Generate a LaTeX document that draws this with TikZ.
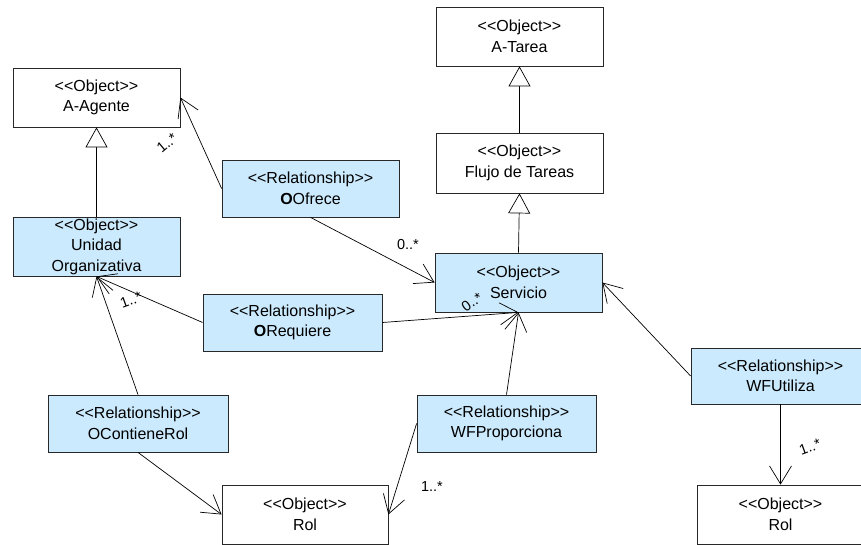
\documentclass[tikz,border=0pt]{standalone}
\usepackage{fontspec}
\setmainfont{Liberation Sans}
\usetikzlibrary{arrows.meta}
\definecolor{relfill}{RGB}{204,234,253}
\definecolor{edgegray}{RGB}{40,40,40}
% kerns keep the angle brackets from being joined into guillemets
\newcommand{\obj}{<\kern0pt<Object>\kern0pt>}
\newcommand{\rel}{<\kern0pt<Relationship>\kern0pt>}
\begin{document}
\begin{tikzpicture}[x=1pt,y=-1pt,
  box/.style={draw=edgegray, line width=0.8pt, rectangle, inner sep=0pt,
    align=center, font=\fontsize{16}{20.5}\selectfont},
  objbox/.style={box, fill=white, minimum width=167pt, minimum height=59pt},
  relbox/.style={box, fill=relfill, minimum width=179pt, minimum height=57pt},
  assoc/.style={draw, line width=0.7pt, -{Straight Barb[length=18pt,width=22pt]}},
  gen/.style={draw, line width=0.7pt, -{Triangle[open,length=20pt,width=22pt,fill=white]}},
  mult/.style={font=\fontsize{14.5}{14.5}\selectfont, inner sep=0pt}]
\useasboundingbox (0,0) rectangle (861,545);
\clip (0,0) rectangle (861,545);

% object classes
\node[objbox] (atarea)   at (519.5,36.5) {\obj\\A-Tarea};
\node[objbox, minimum height=60pt] (flujo) at (519.5,163) {\obj\\Flujo de Tareas};
\node[objbox, fill=relfill] (servicio) at (518.5,282.5) {\obj\\Servicio};
\node[objbox] (agente)   at (96.5,97.5) {\obj\\A-Agente};
\node[objbox, fill=relfill] (unidad) at (96.5,246.5) {\obj\\Unidad\\Organizativa};
\node[objbox, minimum width=166pt] (rolA) at (305,514.5) {\obj\\Rol};
\node[objbox] (rolB)     at (780.5,514.5) {\obj\\Rol};

% relationships
\node[relbox, minimum width=177pt] (ofrece) at (310.5,188.5) {\rel\\\textbf{O}Ofrece};
\node[relbox] (requiere) at (292.5,322.5) {\rel\\\textbf{O}Requiere};
\node[relbox, minimum width=180pt] (contiene) at (138,423.5) {\rel\\OContieneRol};
\node[relbox] (proporciona) at (506.5,423.5) {\rel\\WFProporciona};
\node[relbox, minimum height=56pt] (utiliza) at (780.5,376) {\rel\\WFUtiliza};

% generalisations
\draw[gen] (unidad.north) -- (agente.south);
\draw[gen] (flujo.north) -- (atarea.south);
\draw[gen] (servicio.north) -- (flujo.south);

% associations
\draw[assoc] (ofrece.west) -- (agente.east);
\draw[assoc] (ofrece.south) -- (servicio.west);
\draw[assoc] (requiere.west) -- (unidad.south);
\draw[assoc] (requiere.east) -- (servicio.south);
\draw[assoc] (proporciona.north) -- (servicio.south);
\draw[assoc] (proporciona.west) -- (rolA.east);
\draw[assoc] (contiene.north) -- (unidad.south);
\draw[assoc] (contiene.south) -- (rolA.west);
\draw[assoc] (utiliza.west) -- (servicio.east);
\draw[assoc] (utiliza.south) -- (rolB.north);

% multiplicities
\node[mult, rotate=40] (m1) at (167,143) {1..*};
\node[mult] (m2) at (408,245) {0..*};
\node[mult, rotate=20] (m3) at (131,300) {1..*};
\node[mult, rotate=35] (m4) at (472,302) {0..*};
\node[mult] (m5) at (432,487) {1..*};
\node[mult, rotate=20] (m6) at (810,447) {1..*};
\end{tikzpicture}
\end{document}
